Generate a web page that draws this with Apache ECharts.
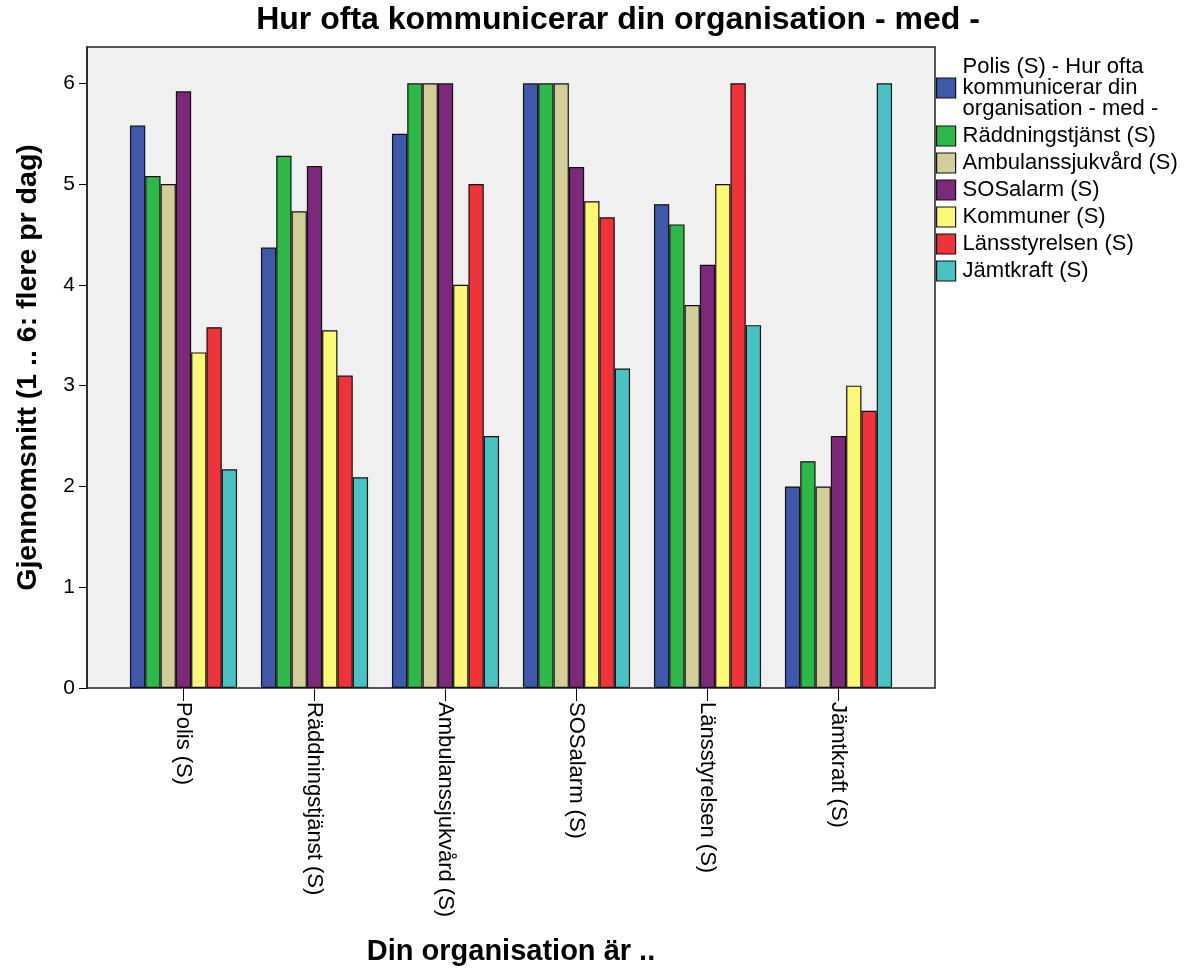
<!DOCTYPE html>
<html>
<head>
<meta charset="utf-8">
<script src="https://cdn.jsdelivr.net/npm/echarts@6/dist/echarts.min.js"></script>
<style>
  html, body { margin: 0; padding: 0; background: #fff; }
  #main { width: 1192px; height: 972px; }
</style>
</head>
<body>
<div id="main"></div>
<script>
  // kategorier (x-axel)
  var categories = ['Polis (S)', 'Räddningstjänst (S)', 'Ambulanssjukvård (S)', 'SOSalarm (S)', 'Länsstyrelsen (S)', 'Jämtkraft (S)'];
  // serienamn (legend)
  var seriesNames = ['Polis (S) - Hur ofta\nkommunicerar din\norganisation - med -', 'Räddningstjänst (S)', 'Ambulanssjukvård (S)', 'SOSalarm (S)', 'Kommuner (S)', 'Länsstyrelsen (S)', 'Jämtkraft (S)'];
  var colors = ['#3E58AC', '#2EB848', '#D3CE97', '#7C287D', '#FBF873', '#EF3338', '#48C2C5'];
  // medelvärden per serie
  var polis = [5.58, 4.37, 5.50, 6.00, 4.80, 2.00];
  var raddning = [5.08, 5.28, 6.00, 6.00, 4.60, 2.25];
  var ambulans = [5.00, 4.73, 6.00, 6.00, 3.80, 2.00];
  var sosalarm = [5.92, 5.18, 6.00, 5.17, 4.20, 2.50];
  var kommuner = [3.33, 3.55, 4.00, 4.83, 5.00, 3.00];
  var lansstyrelsen = [3.58, 3.10, 5.00, 4.67, 6.00, 2.75];
  var jamtkraft = [2.17, 2.09, 2.50, 3.17, 3.60, 6.00];
  var yTicks = [0, 1, 2, 3, 4, 5, 6];

  var allData = [polis, raddning, ambulans, sosalarm, kommuner, lansstyrelsen, jamtkraft];
  var font = '"Liberation Sans", Arial, sans-serif';

  var myChart = echarts.init(document.getElementById('main'));
  var series = [];
  for (var i = 0; i < allData.length; i++) {
    series.push({
      name: seriesNames[i],
      type: 'bar',
      barWidth: 15.3,
      barGap: '0%',
      itemStyle: { color: colors[i], borderColor: '#111', borderWidth: 1.2 },
      data: allData[i]
    });
  }

  myChart.setOption({
    animation: false,
    backgroundColor: '#fff',
    title: {
      text: 'Hur ofta kommunicerar din organisation - med -',
      left: 618,
      top: 4,
      padding: 0,
      textAlign: 'center',
      textStyle: { fontFamily: font, fontWeight: 'bold', fontSize: 32, color: '#000' }
    },
    legend: {
      orient: 'vertical',
      left: 936,
      top: 56,
      padding: 0,
      itemWidth: 19,
      itemHeight: 20,
      itemGap: 5,
      icon: 'rect',
      itemStyle: { borderColor: '#111', borderWidth: 1.2 },
      textStyle: { fontFamily: font, fontSize: 22, lineHeight: 21, color: '#000', padding: [0, 0, 0, 2] },
      data: seriesNames
    },
    graphic: [{
      type: 'rect',
      z: -1,
      silent: true,
      shape: { x: 87, y: 47, width: 848, height: 641 },
      style: { fill: '#f0f0f0', stroke: '#222', lineWidth: 1.5 }
    }],
    grid: { left: 118, right: 288, top: 47, bottom: 284 },
    xAxis: {
      type: 'category',
      data: categories,
      name: 'Din organisation är ..',
      nameLocation: 'middle',
      nameGap: 249,
      nameTextStyle: { fontFamily: font, fontWeight: 'bold', fontSize: 29, color: '#000' },
      axisLine: { show: false },
      axisTick: { show: true, alignWithLabel: true, length: 13, lineStyle: { color: '#000' } },
      axisLabel: { rotate: -90, margin: 14, fontFamily: font, fontSize: 22, color: '#000', interval: 0, padding: [10, 0, 0, 0] }
    },
    yAxis: {
      type: 'value',
      min: 0,
      max: 6.36,
      offset: 31,
      name: 'Gjennomsnitt (1 .. 6: flere pr dag)',
      nameLocation: 'middle',
      nameGap: 44,
      nameTextStyle: { fontFamily: font, fontWeight: 'bold', fontSize: 28.5, color: '#000' },
      splitLine: { show: false },
      axisLine: { show: true, lineStyle: { color: '#222', width: 1.5 } },
      axisTick: { show: true, length: 8, customValues: yTicks, lineStyle: { color: '#000' } },
      axisLabel: { customValues: yTicks, margin: 12, fontFamily: font, fontSize: 21, color: '#000' }
    },
    series: series
  });

  window.addEventListener('resize', function () {
    myChart.resize();
  });
</script>
</body>
</html>
